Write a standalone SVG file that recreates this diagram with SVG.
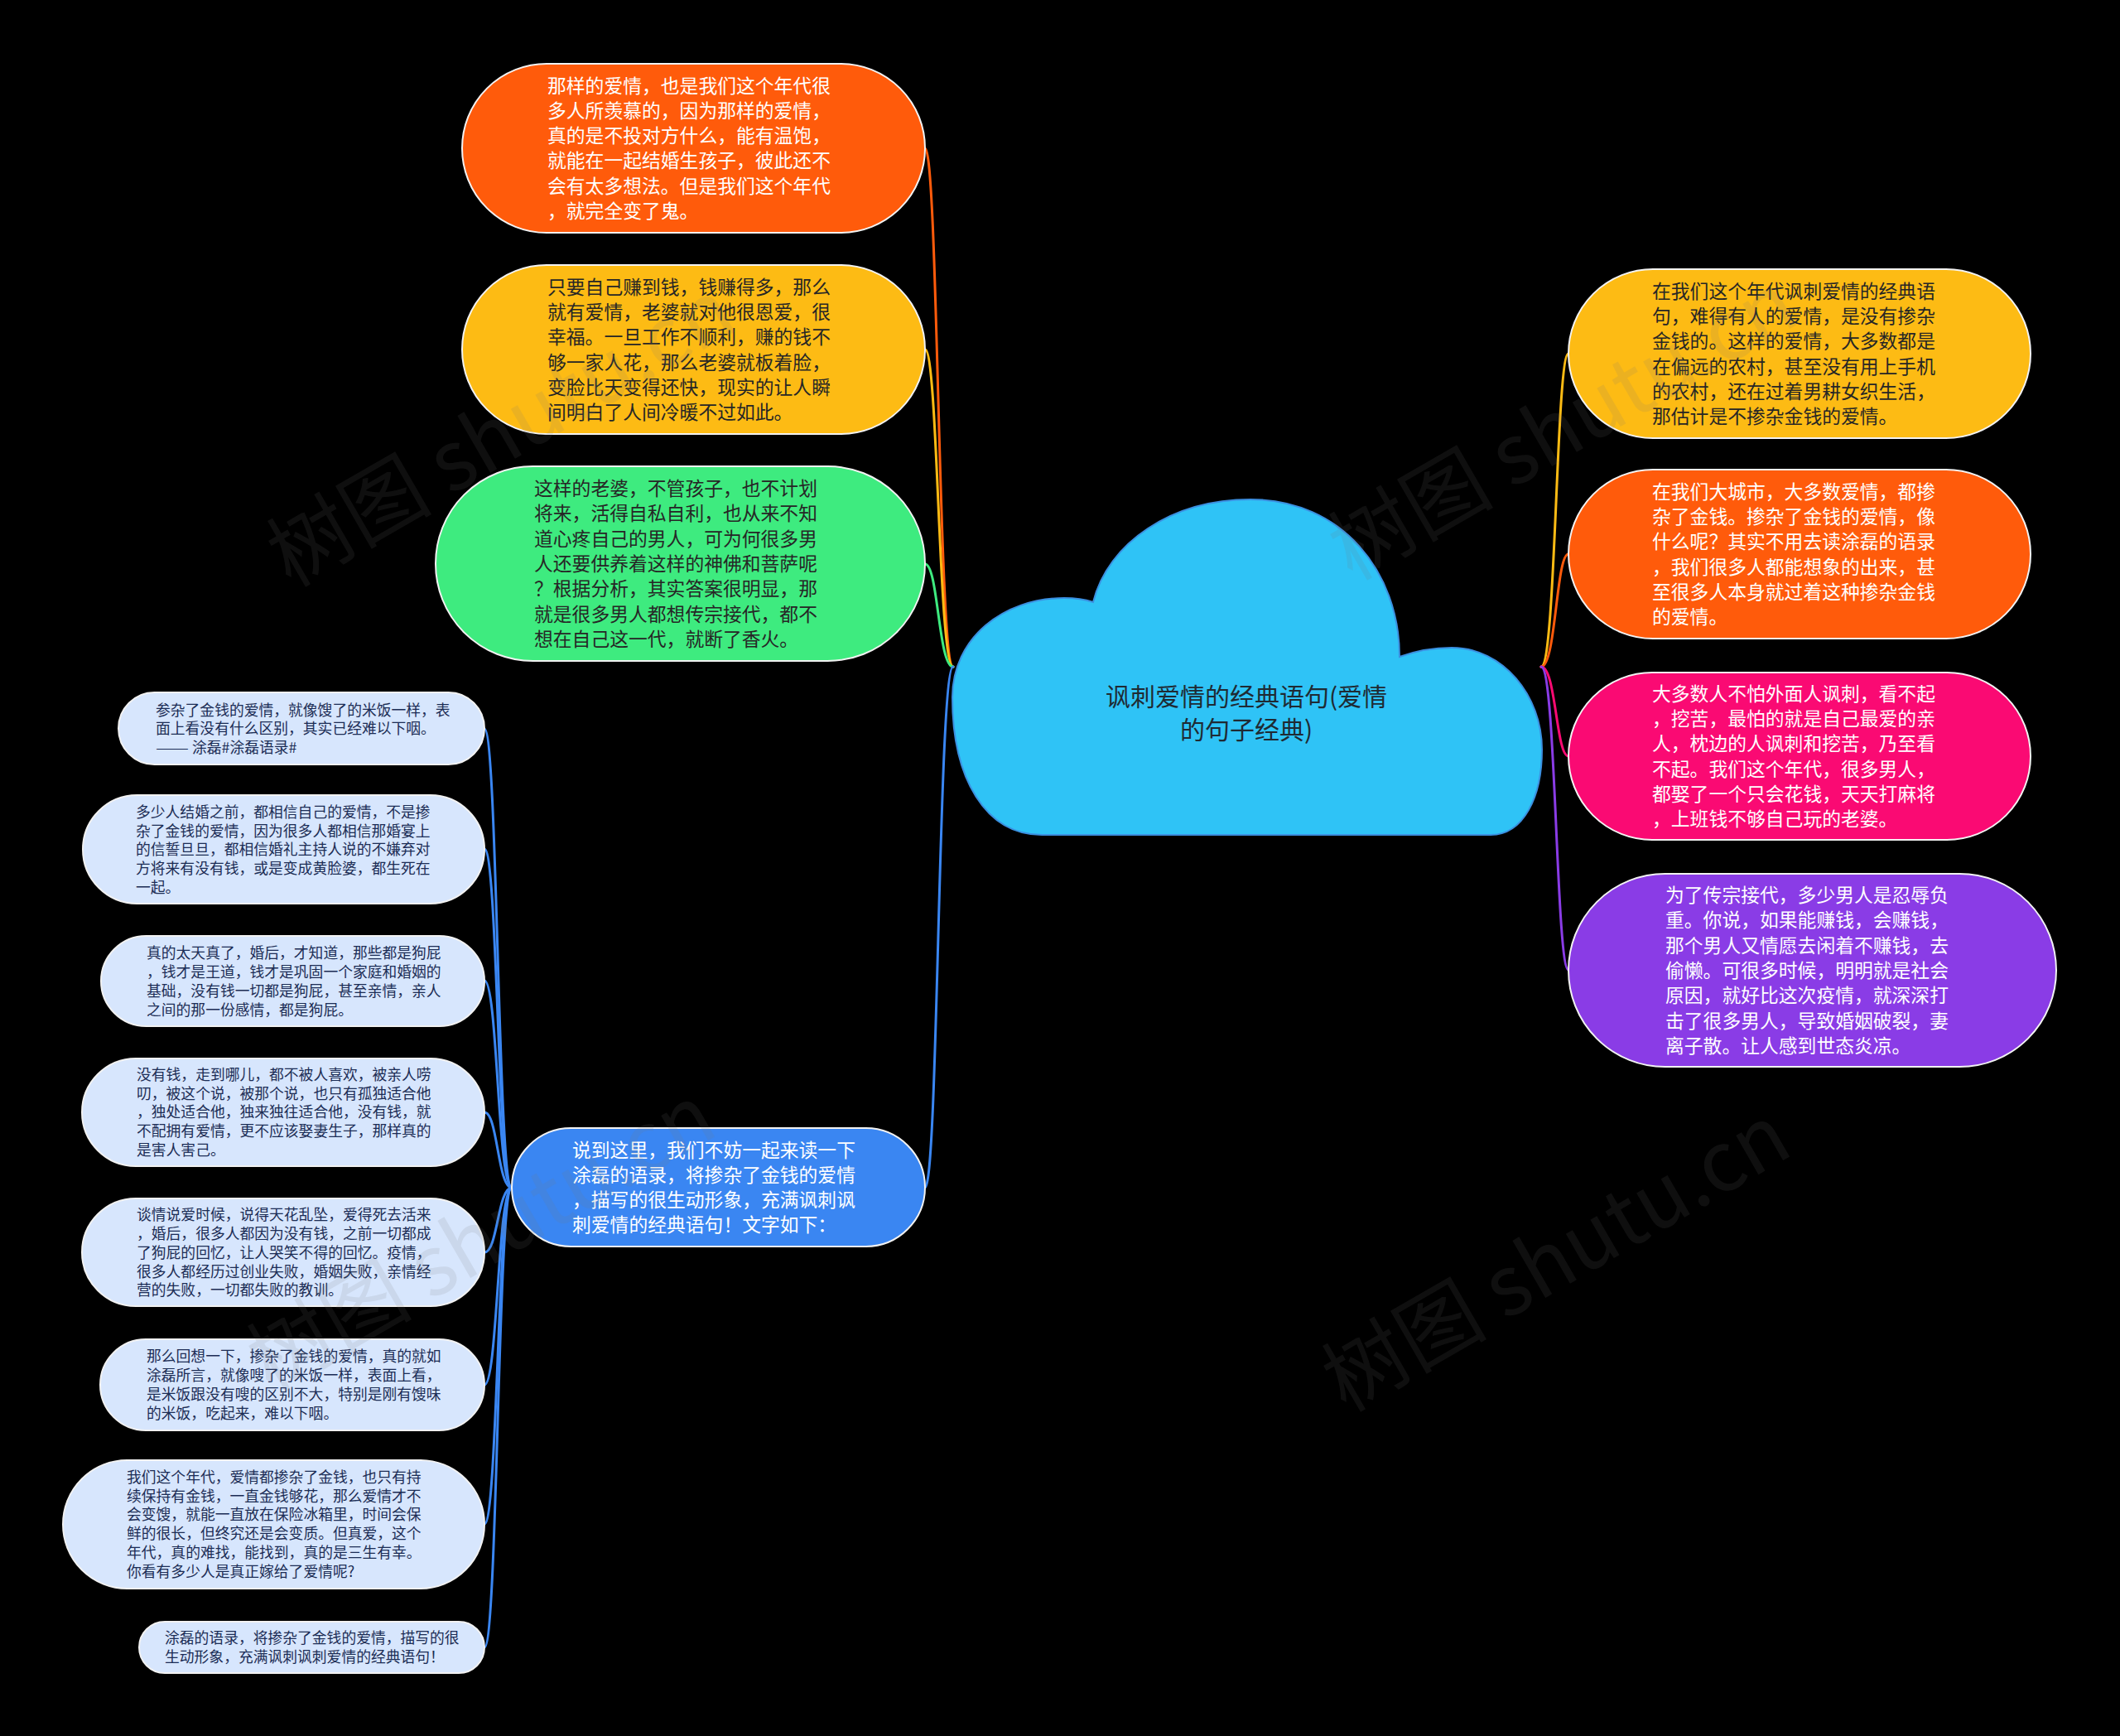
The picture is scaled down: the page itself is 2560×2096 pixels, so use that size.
<svg xmlns="http://www.w3.org/2000/svg" width="2560" height="2096" viewBox="0 0 2560 2096">
<style>
.bg{fill:#000}
.n{stroke:#f2f2f2;stroke-width:2}
.t{font-family:"Noto Sans CJK SC","Noto Sans",sans-serif;font-size:22.8px}
.s{font-family:"Noto Sans CJK SC","Noto Sans",sans-serif;font-size:17.8px;fill:#1c2d55}
.w{fill:#ffffff}
.d{fill:#262626}
.c{fill:none;stroke-width:3;stroke-linecap:round}
.wm{font-family:"Noto Sans CJK SC","Noto Sans",sans-serif;font-size:100px;fill:#777;opacity:0.13}
</style>
<rect class="bg" x="0" y="0" width="2560" height="2096"/>

<g id="connectors">
<path class="c" stroke="#FF5B0B" d="M1151 805 C1133 805 1133 179 1117 179"/>
<path class="c" stroke="#FDBB14" d="M1151 805 C1133 805 1133 422 1117 422"/>
<path class="c" stroke="#3EEB7F" d="M1151 805 C1133 805 1133 681 1117 681"/>
<path class="c" stroke="#3A86F2" d="M1151 805 C1133 805 1133 1434 1117 1434"/>
<path class="c" stroke="#FDBB14" d="M1861 805 C1879 805 1879 427 1894 427"/>
<path class="c" stroke="#FF5B0B" d="M1861 805 C1879 805 1879 669 1894 669"/>
<path class="c" stroke="#FA0A73" d="M1861 805 C1879 805 1879 913 1894 913"/>
<path class="c" stroke="#8A3CE6" d="M1861 805 C1879 805 1879 1171 1894 1171"/>
<path class="c" stroke="#3A86F2" d="M618 1434 C601 1434 601 880 585 880"/>
<path class="c" stroke="#3A86F2" d="M618 1434 C601 1434 601 1025 585 1025"/>
<path class="c" stroke="#3A86F2" d="M618 1434 C601 1434 601 1184 585 1184"/>
<path class="c" stroke="#3A86F2" d="M618 1434 C601 1434 601 1343 585 1343"/>
<path class="c" stroke="#3A86F2" d="M618 1434 C601 1434 601 1512 585 1512"/>
<path class="c" stroke="#3A86F2" d="M618 1434 C601 1434 601 1672 585 1672"/>
<path class="c" stroke="#3A86F2" d="M618 1434 C601 1434 601 1840 585 1840"/>
<path class="c" stroke="#3A86F2" d="M618 1434 C601 1434 601 1989 585 1989"/>
</g>

<g id="root">
<path d="M1258 1008 C1190 1008 1150 940 1150 842 C1150 770 1212 722 1285 722 C1300 722 1311 724 1320 727 C1338 655 1415 603 1510 603 C1620 603 1690 690 1690 793 C1712 785 1732 782 1753 782 C1815 782 1862 840 1862 905 C1862 962 1840 1008 1800 1008 Z" fill="#2FC3F6" stroke="#3B8FE0" stroke-width="2"/>
<text font-family="'Noto Sans CJK SC','Noto Sans',sans-serif" font-size="30" fill="#1f2a33" text-anchor="middle"><tspan x="1505" y="852">讽刺爱情的经典语句(爱情</tspan><tspan x="1505" y="892">的句子经典)</tspan></text>
</g>

<g id="n1">
<rect class="n" x="558" y="77" width="559" height="204" rx="102" fill="#FF5B0B"/>
<text class="t w" x="661" y="111.5"><tspan x="661">那样的爱情，也是我们这个年代很</tspan><tspan x="661" dy="30.3">多人所羡慕的，因为那样的爱情，</tspan><tspan x="661" dy="30.3">真的是不投对方什么，能有温饱，</tspan><tspan x="661" dy="30.3">就能在一起结婚生孩子，彼此还不</tspan><tspan x="661" dy="30.3">会有太多想法。但是我们这个年代</tspan><tspan x="661" dy="30.3">，就完全变了鬼。</tspan></text>
</g>

<g id="n2">
<rect class="n" x="558" y="320" width="559" height="204" rx="102" fill="#FDBB14"/>
<text class="t d" x="661" y="354.8"><tspan x="661">只要自己赚到钱，钱赚得多，那么</tspan><tspan x="661" dy="30.3">就有爱情，老婆就对他很恩爱，很</tspan><tspan x="661" dy="30.3">幸福。一旦工作不顺利，赚的钱不</tspan><tspan x="661" dy="30.3">够一家人花，那么老婆就板着脸，</tspan><tspan x="661" dy="30.3">变脸比天变得还快，现实的让人瞬</tspan><tspan x="661" dy="30.3">间明白了人间冷暖不过如此。</tspan></text>
</g>

<g id="n3">
<rect class="n" x="526" y="563" width="591" height="235" rx="117.5" fill="#3EEB7F"/>
<text class="t d" x="645" y="598.1"><tspan x="645">这样的老婆，不管孩子，也不计划</tspan><tspan x="645" dy="30.3">将来，活得自私自利，也从来不知</tspan><tspan x="645" dy="30.3">道心疼自己的男人，可为何很多男</tspan><tspan x="645" dy="30.3">人还要供养着这样的神佛和菩萨呢</tspan><tspan x="645" dy="30.3">？根据分析，其实答案很明显，那</tspan><tspan x="645" dy="30.3">就是很多男人都想传宗接代，都不</tspan><tspan x="645" dy="30.3">想在自己这一代，就断了香火。</tspan></text>
</g>

<g id="n4">
<rect class="n" x="1894" y="325" width="558" height="204" rx="102" fill="#FDBB14"/>
<text class="t d" x="1995" y="359.8"><tspan x="1995">在我们这个年代讽刺爱情的经典语</tspan><tspan x="1995" dy="30.3">句，难得有人的爱情，是没有掺杂</tspan><tspan x="1995" dy="30.3">金钱的。这样的爱情，大多数都是</tspan><tspan x="1995" dy="30.3">在偏远的农村，甚至没有用上手机</tspan><tspan x="1995" dy="30.3">的农村，还在过着男耕女织生活，</tspan><tspan x="1995" dy="30.3">那估计是不掺杂金钱的爱情。</tspan></text>
</g>

<g id="n5">
<rect class="n" x="1894" y="567" width="558" height="204" rx="102" fill="#FF5B0B"/>
<text class="t w" x="1995" y="601.8"><tspan x="1995">在我们大城市，大多数爱情，都掺</tspan><tspan x="1995" dy="30.3">杂了金钱。掺杂了金钱的爱情，像</tspan><tspan x="1995" dy="30.3">什么呢？其实不用去读涂磊的语录</tspan><tspan x="1995" dy="30.3">，我们很多人都能想象的出来，甚</tspan><tspan x="1995" dy="30.3">至很多人本身就过着这种掺杂金钱</tspan><tspan x="1995" dy="30.3">的爱情。</tspan></text>
</g>

<g id="n6">
<rect class="n" x="1894" y="812" width="558" height="202" rx="101" fill="#FA0A73"/>
<text class="t w" x="1995" y="845.8"><tspan x="1995">大多数人不怕外面人讽刺，看不起</tspan><tspan x="1995" dy="30.3">，挖苦，最怕的就是自己最爱的亲</tspan><tspan x="1995" dy="30.3">人，枕边的人讽刺和挖苦，乃至看</tspan><tspan x="1995" dy="30.3">不起。我们这个年代，很多男人，</tspan><tspan x="1995" dy="30.3">都娶了一个只会花钱，天天打麻将</tspan><tspan x="1995" dy="30.3">，上班钱不够自己玩的老婆。</tspan></text>
</g>

<g id="n7">
<rect class="n" x="1894" y="1055" width="589" height="233" rx="116.5" fill="#8A3CE6"/>
<text class="t w" x="2011" y="1089.1"><tspan x="2011">为了传宗接代，多少男人是忍辱负</tspan><tspan x="2011" dy="30.3">重。你说，如果能赚钱，会赚钱，</tspan><tspan x="2011" dy="30.3">那个男人又情愿去闲着不赚钱，去</tspan><tspan x="2011" dy="30.3">偷懒。可很多时候，明明就是社会</tspan><tspan x="2011" dy="30.3">原因，就好比这次疫情，就深深打</tspan><tspan x="2011" dy="30.3">击了很多男人，导致婚姻破裂，妻</tspan><tspan x="2011" dy="30.3">离子散。让人感到世态炎凉。</tspan></text>
</g>

<g id="n8">
<rect class="n" x="618" y="1362" width="499" height="143" rx="71.5" fill="#3A86F2"/>
<text class="t w" x="691" y="1396.5"><tspan x="691">说到这里，我们不妨一起来读一下</tspan><tspan x="691" dy="30.3">涂磊的语录，将掺杂了金钱的爱情</tspan><tspan x="691" dy="30.3">，描写的很生动形象，充满讽刺讽</tspan><tspan x="691" dy="30.3">刺爱情的经典语句！文字如下：</tspan></text>
</g>

<g id="l1">
<rect class="n" x="143" y="836" width="442" height="87" rx="43.5" fill="#D7E6FD"/>
<text class="s" x="188" y="863.5"><tspan x="188">参杂了金钱的爱情，就像馊了的米饭一样，表</tspan><tspan x="188" dy="22.8">面上看没有什么区别，其实已经难以下咽。</tspan><tspan x="188" dy="22.8" textLength="40" lengthAdjust="spacingAndGlyphs">——</tspan><tspan> 涂磊#涂磊语录#</tspan></text>
</g>

<g id="l2">
<rect class="n" x="100" y="960" width="485" height="131" rx="65.5" fill="#D7E6FD"/>
<text class="s" x="164" y="986.7"><tspan x="164">多少人结婚之前，都相信自己的爱情，不是掺</tspan><tspan x="164" dy="22.8">杂了金钱的爱情，因为很多人都相信那婚宴上</tspan><tspan x="164" dy="22.8">的信誓旦旦，都相信婚礼主持人说的不嫌弃对</tspan><tspan x="164" dy="22.8">方将来有没有钱，或是变成黄脸婆，都生死在</tspan><tspan x="164" dy="22.8">一起。</tspan></text>
</g>

<g id="l3">
<rect class="n" x="122" y="1130" width="463" height="109" rx="54.5" fill="#D7E6FD"/>
<text class="s" x="177" y="1157.1"><tspan x="177">真的太天真了，婚后，才知道，那些都是狗屁</tspan><tspan x="177" dy="22.8">，钱才是王道，钱才是巩固一个家庭和婚姻的</tspan><tspan x="177" dy="22.8">基础，没有钱一切都是狗屁，甚至亲情，亲人</tspan><tspan x="177" dy="22.8">之间的那一份感情，都是狗屁。</tspan></text>
</g>

<g id="l4">
<rect class="n" x="99" y="1278" width="486" height="130" rx="65" fill="#D7E6FD"/>
<text class="s" x="165" y="1303.7"><tspan x="165">没有钱，走到哪儿，都不被人喜欢，被亲人唠</tspan><tspan x="165" dy="22.8">叨，被这个说，被那个说，也只有孤独适合他</tspan><tspan x="165" dy="22.8">，独处适合他，独来独往适合他，没有钱，就</tspan><tspan x="165" dy="22.8">不配拥有爱情，更不应该娶妻生子，那样真的</tspan><tspan x="165" dy="22.8">是害人害己。</tspan></text>
</g>

<g id="l5">
<rect class="n" x="99" y="1447" width="486" height="130" rx="65" fill="#D7E6FD"/>
<text class="s" x="165" y="1473.2"><tspan x="165">谈情说爱时候，说得天花乱坠，爱得死去活来</tspan><tspan x="165" dy="22.8">，婚后，很多人都因为没有钱，之前一切都成</tspan><tspan x="165" dy="22.8">了狗屁的回忆，让人哭笑不得的回忆。疫情，</tspan><tspan x="165" dy="22.8">很多人都经历过创业失败，婚姻失败，亲情经</tspan><tspan x="165" dy="22.8">营的失败，一切都失败的教训。</tspan></text>
</g>

<g id="l6">
<rect class="n" x="121" y="1617" width="464" height="110" rx="55" fill="#D7E6FD"/>
<text class="s" x="177" y="1644.1"><tspan x="177">那么回想一下，掺杂了金钱的爱情，真的就如</tspan><tspan x="177" dy="22.8">涂磊所言，就像嗖了的米饭一样，表面上看，</tspan><tspan x="177" dy="22.8">是米饭跟没有嗖的区别不大，特别是刚有馊味</tspan><tspan x="177" dy="22.8">的米饭，吃起来，难以下咽。</tspan></text>
</g>

<g id="l7">
<rect class="n" x="76" y="1763" width="509" height="155" rx="77.5" fill="#D7E6FD"/>
<text class="s" x="153" y="1789.8"><tspan x="153">我们这个年代，爱情都掺杂了金钱，也只有持</tspan><tspan x="153" dy="22.8">续保持有金钱，一直金钱够花，那么爱情才不</tspan><tspan x="153" dy="22.8">会变馊，就能一直放在保险冰箱里，时间会保</tspan><tspan x="153" dy="22.8">鲜的很长，但终究还是会变质。但真爱，这个</tspan><tspan x="153" dy="22.8">年代，真的难找，能找到，真的是三生有幸。</tspan><tspan x="153" dy="22.8">你看有多少人是真正嫁给了爱情呢?</tspan></text>
</g>

<g id="l8">
<rect class="n" x="168" y="1958" width="417" height="62" rx="31" fill="#D7E6FD"/>
<text class="s" x="199" y="1984.4"><tspan x="199">涂磊的语录，将掺杂了金钱的爱情，描写的很</tspan><tspan x="199" dy="22.8">生动形象，充满讽刺讽刺爱情的经典语句！</tspan></text>
</g>

<g id="watermarks">
<text class="wm" transform="translate(351 710) rotate(-30)">树图 shutu.cn</text>
<text class="wm" transform="translate(1633 702) rotate(-30)">树图 shutu.cn</text>
<text class="wm" transform="translate(327 1682) rotate(-30)">树图 shutu.cn</text>
<text class="wm" transform="translate(1625 1706) rotate(-30)">树图 shutu.cn</text>
</g>
</svg>
